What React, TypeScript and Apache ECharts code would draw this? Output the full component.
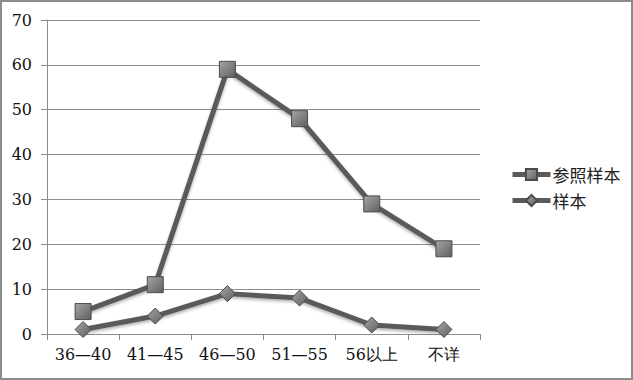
import React, { useEffect, useRef } from "react";
import * as echarts from "echarts";

const categories = ["36—40", "41—45", "46—50", "51—55", "56以上", "不详"];
const refSample = [5, 11, 59, 48, 29, 19];
const sample = [1, 4, 9, 8, 2, 1];
const seriesNames = ["参照样本", "样本"];

const markerFill = new echarts.graphic.LinearGradient(0, 0, 1, 1, [
  { offset: 0, color: "#a6a6a6" },
  { offset: 1, color: "#5e5e5e" },
]);

export default function App() {
  const ref = useRef<HTMLDivElement>(null);
  useEffect(() => {
    document.body.style.margin = "0";
    const chart = echarts.init(ref.current!, null, { renderer: "svg" });
    const numFont = "DejaVu Serif";
    chart.setOption({
      animation: false,
      backgroundColor: "#ffffff",
      grid: { left: 47, right: 153, top: 20, bottom: 46 },
      legend: {
        orient: "vertical",
        left: 505,
        top: 161,
        itemGap: 9,
        itemWidth: 38,
        itemHeight: 14,
        data: seriesNames,
        lineStyle: { width: 5, color: "#5a5a5a" },
        textStyle: { fontFamily: "Noto Sans CJK SC", fontSize: 17, color: "#222", padding: [0, 0, 0, -3] },
      },
      xAxis: {
        type: "category",
        data: categories,
        boundaryGap: true,
        axisLine: { lineStyle: { color: "#8c8c8c", width: 1 } },
        axisTick: { show: true, length: 6, lineStyle: { color: "#8c8c8c" } },
        axisLabel: { interval: 0, margin: 12, fontSize: 16, color: "#111", fontFamily: numFont },
      },
      yAxis: {
        type: "value",
        min: 0,
        max: 70,
        interval: 10,
        axisLine: { show: true, lineStyle: { color: "#8c8c8c", width: 1 } },
        axisTick: { show: true, length: 6, lineStyle: { color: "#8c8c8c" } },
        splitLine: { lineStyle: { color: "#8c8c8c", width: 1 } },
        axisLabel: { margin: 15, fontSize: 16, color: "#111", fontFamily: numFont },
      },
      series: [
        {
          name: seriesNames[0],
          type: "line",
          data: refSample,
          symbol: "rect",
          symbolSize: 16,
          lineStyle: { color: "#5a5a5a", width: 5, shadowColor: "rgba(0,0,0,0.3)", shadowBlur: 3, shadowOffsetY: 2 },
          itemStyle: { color: markerFill, borderColor: "#4a4a4a", borderWidth: 1 },
        },
        {
          name: seriesNames[1],
          type: "line",
          data: sample,
          symbol: "diamond",
          symbolSize: 16,
          lineStyle: { color: "#5a5a5a", width: 5, shadowColor: "rgba(0,0,0,0.3)", shadowBlur: 3, shadowOffsetY: 2 },
          itemStyle: { color: markerFill, borderColor: "#4a4a4a", borderWidth: 1 },
        },
      ],
    });
    return () => chart.dispose();
  }, []);
  return (
    <div style={{ position: "fixed", left: 0, top: 0, width: 633, height: 380, background: "#fff" }}>
      <div ref={ref} style={{ position: "absolute", left: 0, top: 0, width: 633, height: 380 }} />
      <div
        style={{
          position: "absolute",
          left: 0,
          top: 0,
          width: 633,
          height: 380,
          boxSizing: "border-box",
          border: "2px solid #8c8c8c",
          pointerEvents: "none",
        }}
      />
    </div>
  );
}
